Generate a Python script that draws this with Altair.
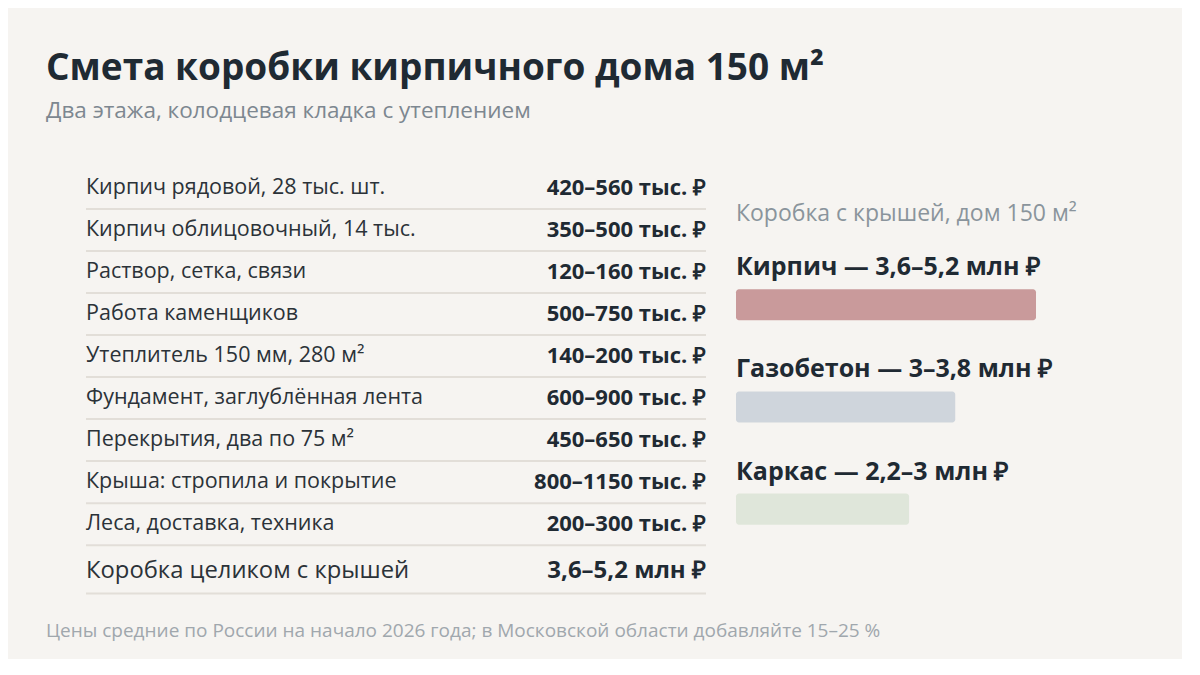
import altair as alt
import pandas as pd

FONT = "Open Sans"

# Смета по статьям
items = [
    "Кирпич рядовой, 28 тыс. шт.",
    "Кирпич облицовочный, 14 тыс.",
    "Раствор, сетка, связи",
    "Работа каменщиков",
    "Утеплитель 150 мм, 280 м²",
    "Фундамент, заглублённая лента",
    "Перекрытия, два по 75 м²",
    "Крыша: стропила и покрытие",
    "Леса, доставка, техника",
]
item_costs = [
    "420–560 тыс. ₽",
    "350–500 тыс. ₽",
    "120–160 тыс. ₽",
    "500–750 тыс. ₽",
    "140–200 тыс. ₽",
    "600–900 тыс. ₽",
    "450–650 тыс. ₽",
    "800–1150 тыс. ₽",
    "200–300 тыс. ₽",
]
total_label = "Коробка целиком с крышей"
total_cost = "3,6–5,2 млн ₽"

# Сравнение технологий, млн ₽
materials = ["Кирпич", "Газобетон", "Каркас"]
mat_low = [3.6, 3.0, 2.2]
mat_high = [5.2, 3.8, 3.0]
mat_text = ["3,6–5,2 млн ₽", "3–3,8 млн ₽", "2,2–3 млн ₽"]
mat_colors = ["#c99a9b", "#cfd5dc", "#dfe6da"]

footnote = "Цены средние по России на начало 2026 года; в Московской области добавляйте 15–25 %"

# --- left: table ---
rows = pd.DataFrame({"pos": list(range(len(items))), "label": items, "cost": item_costs})
total = pd.DataFrame({"pos": [len(items) + 0.12], "label": [total_label], "cost": [total_cost]})
seps = pd.DataFrame({"pos": [p + 0.5 for p in range(len(items))] + [len(items) + 0.65]})
note = pd.DataFrame({"pos": [len(items) + 1.55], "label": [footnote]})

ty = alt.Scale(domain=[-0.5, len(items) + 1.9], reverse=True)

sep_layer = alt.Chart(seps).mark_rule(color="#e2ded8", strokeWidth=2).encode(
    y=alt.Y("pos:Q", scale=ty, axis=None),
    x=alt.value(40), x2=alt.value(660),
)
row_labels = alt.Chart(rows).mark_text(
    align="left", baseline="middle", font=FONT, fontSize=21.5, color="#2b3238"
).encode(y=alt.Y("pos:Q", scale=ty, axis=None), x=alt.value(40), text="label:N")
row_costs = alt.Chart(rows).mark_text(
    align="right", baseline="middle", font=FONT, fontSize=22, fontWeight="bold", color="#1f2a33"
).encode(y=alt.Y("pos:Q", scale=ty, axis=None), x=alt.value(660), text="cost:N")
tot_label = alt.Chart(total).mark_text(
    align="left", baseline="middle", font=FONT, fontSize=23.8, color="#2b3238"
).encode(y=alt.Y("pos:Q", scale=ty, axis=None), x=alt.value(40), text="label:N")
tot_cost = alt.Chart(total).mark_text(
    align="right", baseline="middle", font=FONT, fontSize=24, fontWeight="bold", color="#1f2a33"
).encode(y=alt.Y("pos:Q", scale=ty, axis=None), x=alt.value(660), text="cost:N")
note_layer = alt.Chart(note).mark_text(
    align="left", baseline="middle", font=FONT, fontSize=19, color="#a0a7ad"
).encode(y=alt.Y("pos:Q", scale=ty, axis=None), x=alt.value(0), text="label:N")

left = (sep_layer + row_labels + row_costs + tot_label + tot_cost + note_layer).properties(
    width=660, height=479
)

# --- right: bars ---
mats = pd.DataFrame({
    "k": list(range(len(materials))),
    "name": materials,
    "low": mat_low,
    "high": mat_high,
    "range": mat_text,
    "color": mat_colors,
})
mats["label"] = mats["name"] + " — " + mats["range"]
mats["top"] = mats["k"] + 0.215
mats["bot"] = mats["k"] + 0.52

ry = alt.Scale(domain=[-0.981, 3.707], reverse=True)
rx = alt.Scale(domain=[0, 5.2])

header = alt.Chart(pd.DataFrame({"k": [-0.52], "t": ["Коробка с крышей, дом 150 м²"]})).mark_text(
    align="left", baseline="middle", font=FONT, fontSize=23, color="#8a949c"
).encode(y=alt.Y("k:Q", scale=ry, axis=None), x=alt.value(0), text="t:N")
mat_labels = alt.Chart(mats).mark_text(
    align="left", baseline="middle", font=FONT, fontSize=25, fontWeight="bold", color="#1f2a33"
).encode(y=alt.Y("k:Q", scale=ry, axis=None), x=alt.value(0), text="label:N")
bars = alt.Chart(mats).mark_rect(cornerRadius=3).encode(
    y=alt.Y("top:Q", scale=ry, axis=None),
    y2="bot:Q",
    x=alt.X("high:Q", scale=rx, axis=None),
    x2=alt.datum(0),
    color=alt.Color("color:N", scale=None),
)

right = (bars + header + mat_labels).properties(width=300, height=479)

chart = alt.hconcat(left, right, spacing=30, bounds="flush").properties(
    title=alt.TitleParams(
        text="Смета коробки кирпичного дома 150 м²",
        subtitle="Два этажа, колодцевая кладка с утеплением",
        anchor="start",
        font=FONT,
        fontSize=37,
        fontWeight="bold",
        color="#1f2a33",
        subtitleFont=FONT,
        subtitleFontSize=22.5,
        subtitleColor="#7d8790",
        subtitlePadding=12,
        offset=44,
    ),
    background="#f6f4f1",
    padding={"left": 38, "top": 41, "right": 105, "bottom": 13},
).configure_view(stroke=None)

chart.save("out.html", embed_options={"renderer": "svg", "actions": False})
